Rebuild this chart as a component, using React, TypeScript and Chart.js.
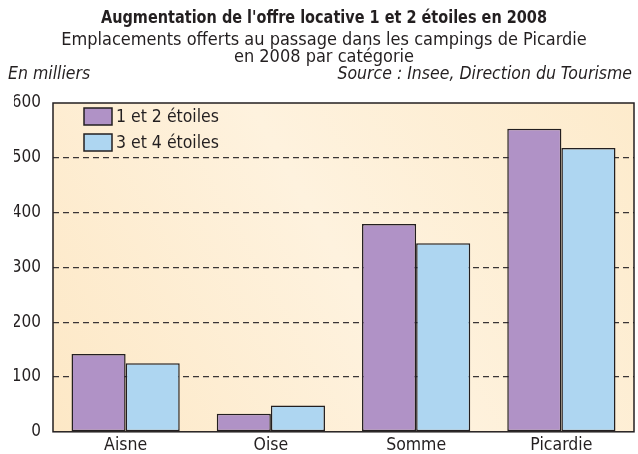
import React, { useEffect, useRef } from "react";
import { Chart, registerables } from "chart.js";

Chart.register(...registerables);

const categories = ["Aisne", "Oise", "Somme", "Picardie"];
const series1Label = "1 et 2 étoiles";
const series2Label = "3 et 4 étoiles";
const series1 = [142, 33, 379, 553];
const series2 = [125, 48, 344, 518];
const yTicks = [0, 100, 200, 300, 400, 500, 600];

const titleText = "Augmentation de l'offre locative 1 et 2 étoiles en 2008";
const subtitleLines = [
  "Emplacements offerts au passage dans les campings de Picardie",
  "en 2008 par catégorie",
];
const unitText = "En milliers";
const sourceText = "Source : Insee, Direction du Tourisme";

const FONT = "'Liberation Sans Narrow', 'DejaVu Sans Condensed', 'Arial Narrow', sans-serif";
const PURPLE = "#b092c6";
const BLUE = "#aed6f1";
const EDGE = "#231f20";
const INK = "#231f20";

const framePlugin = {
  id: "frameAndExtras",
  beforeDraw(chart: any) {
    const { ctx, chartArea } = chart;
    const { left, top, right, bottom } = chartArea;
    ctx.save();
    const g = ctx.createLinearGradient(left, bottom, right, top);
    g.addColorStop(0, "#fde8c6");
    g.addColorStop(0.5, "#fef2de");
    g.addColorStop(1, "#fdebcc");
    ctx.fillStyle = g;
    ctx.fillRect(left, top, right - left, bottom - top);
    ctx.restore();
  },
  afterDraw(chart: any) {
    const { ctx, chartArea } = chart;
    const { left, top, right, bottom } = chartArea;
    ctx.save();
    ctx.strokeStyle = EDGE;
    ctx.lineWidth = 1.5;
    ctx.strokeRect(left, top, right - left, bottom - top);

    // main title (condensed bold)
    ctx.fillStyle = INK;
    ctx.font = `bold 18.5px ${FONT}`;
    ctx.textAlign = "center";
    ctx.textBaseline = "middle";
    const w = ctx.measureText(titleText).width;
    const sx = Math.min(1, 446 / w);
    ctx.save();
    ctx.translate(324, 18);
    ctx.scale(sx, 1);
    ctx.fillText(titleText, 0, 0);
    ctx.restore();

    // unit and source
    ctx.font = `italic 17.5px ${FONT}`;
    ctx.textBaseline = "middle";
    ctx.textAlign = "left";
    ctx.fillText(unitText, 8, 74);
    ctx.textAlign = "right";
    ctx.fillText(sourceText, 632, 74);

    // legend inside plot
    const ds = chart.data.datasets;
    ds.forEach((d: any, i: number) => {
      const bx = left + 31;
      const by = top + 5 + i * 26;
      ctx.fillStyle = d.backgroundColor;
      ctx.fillRect(bx, by, 28, 17);
      ctx.strokeStyle = EDGE;
      ctx.lineWidth = 1.5;
      ctx.strokeRect(bx, by, 28, 17);
      ctx.fillStyle = INK;
      ctx.font = `17.5px ${FONT}`;
      ctx.textAlign = "left";
      ctx.textBaseline = "middle";
      ctx.fillText(d.label, bx + 32, by + 9);
    });
    ctx.restore();
  },
};

export default function App() {
  const ref = useRef<HTMLCanvasElement>(null);
  useEffect(() => {
    if (!ref.current) return;
    const chart = new Chart(ref.current, {
      type: "bar",
      data: {
        labels: categories,
        datasets: [
          {
            label: series1Label,
            data: series1,
            backgroundColor: PURPLE,
            borderColor: EDGE,
            borderWidth: 1.5,
            borderSkipped: false,
          },
          {
            label: series2Label,
            data: series2,
            backgroundColor: BLUE,
            borderColor: EDGE,
            borderWidth: 1.5,
            borderSkipped: false,
          },
        ],
      },
      options: {
        animation: false,
        responsive: false,
        maintainAspectRatio: false,
        layout: { padding: { left: 14, right: 4, top: 32, bottom: 0 } },
        datasets: { bar: { barPercentage: 1, categoryPercentage: 0.745 } },
        plugins: {
          legend: { display: false },
          tooltip: { enabled: false },
          title: { display: false },
          subtitle: {
            display: true,
            text: subtitleLines,
            color: INK,
            font: { family: FONT, size: 18, lineHeight: "17px" },
            padding: { top: 0, bottom: 37 },
          },
        },
        scales: {
          x: {
            grid: { display: false, drawTicks: false },
            border: { display: false },
            ticks: {
              color: INK,
              font: { family: FONT, size: 17.5 },
              padding: 3,
            },
            afterFit(scale: any) {
              scale.height = 22;
            },
          },
          y: {
            min: 0,
            max: 600,
            afterBuildTicks(scale: any) {
              scale.ticks = yTicks.map((v) => ({ value: v }));
            },
            grid: {
              drawTicks: false,
              color: (c: any) =>
                c.tick && (c.tick.value === 0 || c.tick.value === 600) ? "rgba(0,0,0,0)" : "#3a3536",
              lineWidth: 1.2,
            },
            border: { display: false, dash: [6, 4] },
            ticks: {
              color: INK,
              font: { family: FONT, size: 17 },
              padding: 12,
              callback: (v: any) => String(v),
            },
            afterFit(scale: any) {
              scale.width = 39;
            },
          },
        },
      },
      plugins: [framePlugin],
    } as any);
    return () => chart.destroy();
  }, []);
  return (
    <div style={{ position: "fixed", left: 0, top: 0, width: 638, height: 454, background: "#fff" }}>
      <canvas ref={ref} width={638} height={454} />
    </div>
  );
}
